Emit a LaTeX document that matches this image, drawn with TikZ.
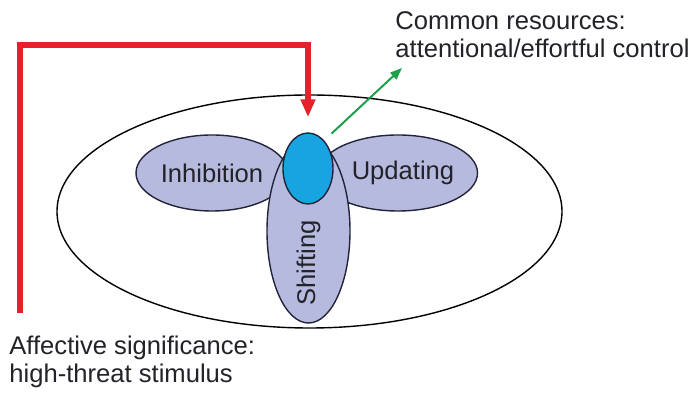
\documentclass[tikz,border=0pt]{standalone}
\usepackage{fontspec}
\setmainfont{Liberation Sans}
\usepackage{xcolor}
\usepackage{tikz}
\usetikzlibrary{calc, positioning, arrows.meta, shapes.geometric}
\definecolor{lobefill}{HTML}{B7BADF}
\definecolor{lobeline}{HTML}{23233A}
\definecolor{corefill}{HTML}{18A4E0}
\definecolor{threatred}{HTML}{E5222B}
\definecolor{resgreen}{HTML}{1F9E4B}
\definecolor{labeltext}{HTML}{222228}

\begin{document}
\begin{tikzpicture}[x=0.5pt, y=-0.5pt, font=\fontsize{12.8}{14}\selectfont,
    lobe/.style={ellipse, draw=lobeline, fill=lobefill, line width=0.7pt, inner sep=0pt, text=labeltext},
    caption/.style={align=left, inner sep=0pt, text=labeltext}]
      \useasboundingbox (0,0) rectangle (693,394);
      % nodes %
      \node[ellipse, draw=black, line width=0.7pt, minimum width=252.5pt, minimum height=116.5pt] (frame) at (309.5,211.5) {};
      \node[lobe, minimum width=76pt, minimum height=38pt] (inh) at (212,173) {Inhibition};
      \node[lobe, minimum width=76.5pt, minimum height=38pt] (upd) at (398,173) {\hspace{5pt}Updating};
      \node[lobe, minimum width=41.5pt, minimum height=92pt] (shf) at (308.5,231) {};
      \node[rotate=90, text=labeltext, inner sep=0pt] (shflabel) at (308.5,263) {Shifting};
      \node[ellipse, draw=lobeline, fill=corefill, line width=0.7pt, minimum width=25pt, minimum height=35.5pt, inner sep=0pt] (core) at (308,168.5) {};
      \node[caption, anchor=north west] (common) at (395,11) {Common resources:\\attentional/effortful control};
      \node[caption, anchor=north west] (affect) at (9,336) {Affective significance:\\high-threat stimulus};
      \coordinate (src) at (20,313);
      \coordinate (corner) at (20,45);
      \coordinate (res) at (402,68);
      % edges %
      \draw[-{Triangle[length=9pt, width=7pt]}, line width=2.8pt, threatred, shorten >=7.5pt] (src) -- (corner) -| (core);
      \draw[-{Triangle[length=6pt, width=4.5pt]}, line width=1pt, resgreen, shorten <=5pt] (core.60) -- (res);
    \end{tikzpicture}
\end{document}
